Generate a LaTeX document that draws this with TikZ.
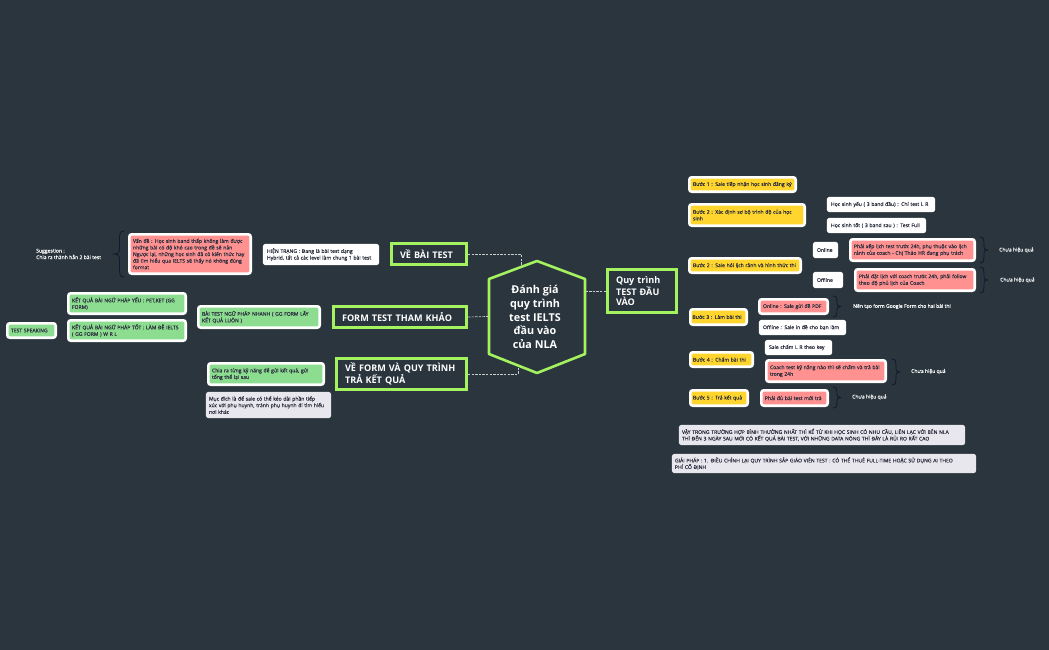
\documentclass[tikz,border=0pt]{standalone}
\usepackage{fontspec}
\setmainfont{Open Sans}
\newfontfamily\medf[FakeBold=0.08]{Open Sans}
\definecolor{bgc}{HTML}{2A353D}
\definecolor{lime}{HTML}{A4F25F}
\definecolor{redf}{HTML}{FF9191}
\definecolor{greenf}{HTML}{8CDD90}
\definecolor{yellowf}{HTML}{FFD52E}
\definecolor{greyf}{HTML}{E9E7EE}
\definecolor{inkc}{HTML}{2A2D3C}
\definecolor{bracec}{HTML}{0E1A30}
\newcommand{\smallsz}{\medf\fontsize{5.05}{6.6}\selectfont}
\tikzset{
  x=1pt,y=-1pt,
  basebox/.style={rounded corners=2.5pt,text=inkc,align=left,font=\smallsz,inner sep=0pt,anchor=center},
  whitebox/.style={basebox,fill=white,draw=white,line width=1pt},
  framed/.style={basebox,draw=white,line width=2.6pt},
  redbox/.style={framed,fill=redf},
  greenbox/.style={framed,fill=greenf},
  yellowbox/.style={framed,fill=yellowf},
  greybox/.style={basebox,fill=greyf,draw=greyf,line width=1pt},
  topicbox/.style={basebox,rounded corners=0pt,draw=lime,line width=2.6pt,fill=bgc,text=white,font=\fontsize{9.1}{10.6}\bfseries\selectfont},
  note/.style={text=white,font=\smallsz,align=left,anchor=west,inner sep=0pt},
  link/.style={draw=white!75!bgc,line width=0.7pt,dash pattern=on 2.4pt off 1.2pt},
  bracel/.style={draw=bracec,line width=0.8pt,line cap=round}
}
% name, style, x1, y1, x2, y2, left pad, text
\newcommand{\bx}[8]{%
  \pgfmathsetmacro{\cxx}{(#3+#5)/2}\pgfmathsetmacro{\cyy}{(#4+#6)/2}%
  \pgfmathsetmacro{\www}{#5-#3-2.6}\pgfmathsetmacro{\hhh}{#6-#4-2.6}%
  \pgfmathsetmacro{\ttt}{#5-#3-2*#7}%
  \node[#2,minimum width=\www pt,minimum height=\hhh pt,text width=\ttt pt] (#1) at (\cxx,\cyy) {#8};}
% right-opening brace : x-left, top, bottom ; tip 7 to the right
\newcommand{\rbr}[3]{%
  \pgfmathsetmacro{\mmm}{(#2+#3)/2}%
  \draw[bracel] (#1,#2) .. controls (#1+4,#2) and (#1+4,#2+3) .. (#1+4,#2+6) -- (#1+4,\mmm-3) .. controls (#1+4,\mmm-1) and (#1+5,\mmm) .. (#1+7.5,\mmm) .. controls (#1+5,\mmm) and (#1+4,\mmm+1) .. (#1+4,\mmm+3) -- (#1+4,#3-6) .. controls (#1+4,#3-3) and (#1+4,#3) .. (#1,#3);}
\begin{document}
\begin{tikzpicture}
\fill[bgc] (0,0) rectangle (1049,650);
\useasboundingbox (0,0) rectangle (1049,650);

% central hexagon
\coordinate (hT) at (537,261);
\coordinate (hUR) at (585,279);
\coordinate (hLR) at (585,354);
\coordinate (hB) at (537,373);
\coordinate (hLL) at (489,354);
\coordinate (hUL) at (489,279);
\draw[lime,line width=2.6pt,fill=bgc,line join=round] (hT) -- (hUR) -- (hLR) -- (hB) -- (hLL) -- (hUL) -- cycle;
\node[text=white,align=center,inner sep=0pt,font=\fontsize{10.8}{13.9}\bfseries\selectfont] (hub) at (535,317) {Đánh giá\\quy trình\\test IELTS\\đầu vào\\của NLA};
\coordinate (hubA) at (521,266);
\coordinate (hubB) at (488,316.5);
\coordinate (hubC) at (518,368);
\coordinate (hubD) at (586,291);

% main topics
\bx{t1}{topicbox}{390}{242}{468}{266}{10}{VỀ BÀI TEST}
\bx{t2}{topicbox}{332}{305}{468}{329}{10}{FORM TEST THAM KHẢO}
\bx{t3}{topicbox}{335}{357}{468}{391}{10}{VỀ FORM VÀ QUY TRÌNH\\TRẢ KẾT QUẢ}
\bx{t4}{topicbox}{606}{268}{678}{314}{10}{Quy trình\\TEST ĐẦU\\VÀO}
\draw[link] (t1.east) -| (hubA);
\draw[link] (t2.east) -- (hubB);
\draw[link] (t3.east) -| (hubC);
\draw[link] (t4.west) -- (hubD);

% left side
\bx{hientrang}{whitebox}{262}{243}{380}{266}{5}{HIỆN TRẠNG : Đang là bài test dạng\\Hybrid, tất cả các level làm chung 1 bài test}
\bx{vande}{redbox}{128}{233}{252}{275}{5}{Vấn đề : Học sinh band thấp không làm được\\những bài có độ khó cao trong đề sẽ nản\\Ngược lại, những học sinh đã có kiến thức hay\\đã tìm hiểu qua IELTS sẽ thấy nó không đúng\\format}
\draw[bracel] (124,231) .. controls (120,231) and (119.5,234) .. (119.5,237) -- (119.5,250) .. controls (119.5,252) and (118,254) .. (114,254) .. controls (118,254) and (119.5,256) .. (119.5,258) -- (119.5,271) .. controls (119.5,274) and (120,277) .. (124,277);
\node[note] (sugg) at (36,254) {Suggestion :\\Chia ra thành hẳn 2 bài test};
\bx{ngu}{greenbox}{197}{305}{321}{329}{5}{BÀI TEST NGỮ PHÁP NHANH ( GG FORM LẤY\\KẾT QUẢ LUÔN )}
\bx{yeu}{greenbox}{67}{292}{187}{315}{5}{KẾT QUẢ BÀI NGỮ PHÁP YẾU : PET,KET (GG\\FORM)}
\bx{tot}{greenbox}{67}{319}{187}{342}{5}{KẾT QUẢ BÀI NGỮ PHÁP TỐT : LÀM ĐỀ IELTS\\ ( GG FORM ) W R L}
\bx{speak}{greenbox}{6}{322}{57}{339}{5}{TEST SPEAKING}
\bx{chia}{greenbox}{207}{362}{325}{386}{5}{Chia ra từng kỹ năng để gửi kết quả, gửi\\tổng thể lại sau}
\bx{mucdich}{greybox}{205}{391}{332}{419}{4}{Mục đích là để sale có thể kéo dài phần tiếp\\xúc với phụ huynh, tránh phụ huynh đi tìm hiểu\\nơi khác}

% right side
\bx{b1}{yellowbox}{688}{176}{797}{193}{5}{Bước 1 : Sale tiếp nhận học sinh đăng ký}
\bx{b2}{yellowbox}{688}{203}{806}{227}{5}{Bước 2 : Xác định sơ bộ trình độ của học\\sinh}
\bx{hsy}{whitebox}{826}{196}{936}{213}{5}{Học sinh yếu ( 3 band đầu) : Chỉ test L R}
\bx{hst}{whitebox}{826}{217}{927}{234}{5}{Học sinh tốt ( 3 band sau ) : Test Full}
\bx{b2b}{yellowbox}{688}{257}{802}{274}{5}{Bước 2 : Sale hỏi lịch rảnh và hình thức thi}
\bx{onl}{whitebox}{812}{241}{839}{259}{5}{Online}
\bx{off}{whitebox}{812}{271}{844}{289}{5}{Offline}
\bx{r1}{redbox}{849}{238}{976}{262}{5}{Phải xếp lịch test trước 24h, phụ thuộc vào lịch\\rảnh của coach - Chị Thảo HR đang phụ trách}
\bx{r2}{redbox}{854}{268}{976}{292}{5}{Phải đặt lịch với coach trước 24h, phải follow\\theo độ phủ lịch của Coach}
\rbr{980}{237}{263}
\rbr{980}{267}{293}
\node[note] (c1) at (999,250) {Chưa hiệu quả};
\node[note] (c2) at (1000,280) {Chưa hiệu quả};

\bx{b3}{yellowbox}{689}{308}{748}{326}{3.5}{Bước 3 : Làm bài thi}
\bx{on2}{redbox}{758}{298}{829}{315}{5}{Online : Sale gửi đề PDF}
\bx{of2}{whitebox}{758}{319}{847}{336}{5}{Offline : Sale in đề cho bạn làm}
\rbr{833}{296}{317}
\node[note] (c3) at (853,306.5) {Nên tạo form Google Form cho hai bài thi};

\bx{b4}{yellowbox}{689}{351}{754}{368}{4}{Bước 4 : Chấm bài thi}
\bx{cham}{whitebox}{764}{339}{833}{356}{5}{Sale chấm L R theo key}
\bx{coach}{redbox}{765}{359}{887}{383}{5}{Coach test kỹ năng nào thì sẽ chấm và trả bài\\trong 24h}
\rbr{892}{359}{385}
\node[note] (c4) at (911,371.5) {Chưa hiệu quả};

\bx{b5}{yellowbox}{689}{389}{749}{407}{4}{Bước 5 : Trả kết quả}
\bx{du}{redbox}{760}{389}{829}{407}{5}{Phải đủ bài test mới trả}
\rbr{833}{387}{408}
\node[note] (c5) at (852,397) {Chưa hiệu quả};

\bx{vay}{greybox}{678}{424}{966}{446}{4}{VẬY TRONG TRƯỜNG HỢP BÌNH THƯỜNG NHẤT THÌ KỂ TỪ KHI HỌC SINH CÓ NHU CẦU, LIÊN LẠC VỚI BÊN NLA\\THÌ ĐẾN 3 NGÀY SAU MỚI CÓ KẾT QUẢ BÀI TEST, VỚI NHỮNG DATA NÓNG THÌ ĐÂY LÀ RỦI RO RẤT CAO}
\bx{giai}{greybox}{671}{453}{977}{474}{4}{GIẢI PHÁP : 1. ĐIỀU CHỈNH LẠI QUY TRÌNH SẮP GIÁO VIÊN TEST : CÓ THỂ THUÊ FULL-TIME HOẶC SỬ DỤNG AI THEO\\PHÍ CỐ ĐỊNH}
\end{tikzpicture}
\end{document}
